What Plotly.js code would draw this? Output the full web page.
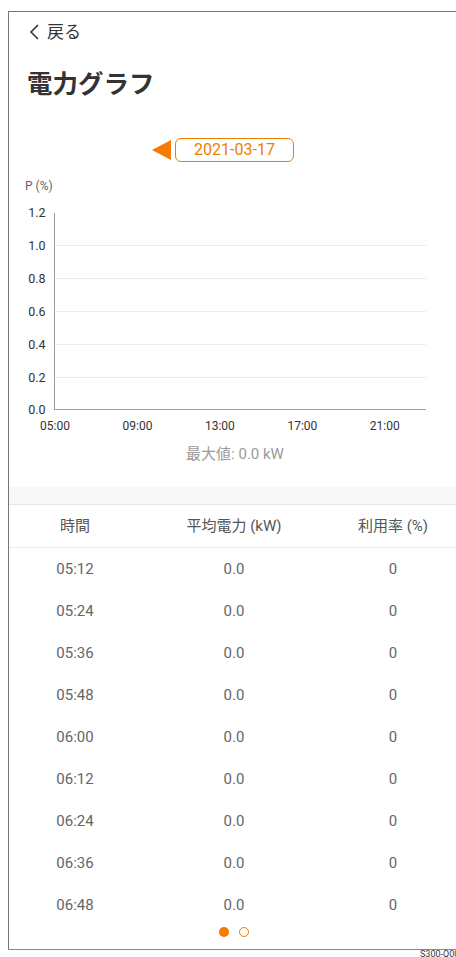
<!DOCTYPE html>
<html><head><meta charset="utf-8">
<script src="https://cdn.plot.ly/plotly-3.0.1.min.js"></script>
<style>
html,body{margin:0;padding:0;background:#fff;width:456px;height:957px;overflow:hidden;font-family:Roboto,"Noto Sans CJK JP",sans-serif;}
.abs{position:absolute;}
#frameTop{left:8px;top:11px;width:448px;height:1px;background:#777;}
#frameLeft{left:8px;top:11px;width:1px;height:939px;background:#777;}
#frameBottom{left:8px;top:949px;width:448px;height:1px;background:#888;}
#back{left:28px;top:21px;font-size:17px;color:#333;line-height:22px;}
#title{left:27px;top:65px;font-size:25.5px;font-weight:bold;color:#333;line-height:34px;font-family:"Noto Sans CJK JP",sans-serif;}
#tri{left:152px;top:140px;width:0;height:0;border-top:10px solid transparent;border-bottom:10px solid transparent;border-right:19px solid #f57c00;}
#datebox{left:175px;top:138px;width:117px;height:22px;border:1px solid #f07c00;border-radius:6px;color:#f07c00;font-size:16px;text-align:center;line-height:22px;}
#maxv{left:0;width:470px;top:442px;text-align:center;font-size:15px;color:#9a9a9a;}
#band{left:9px;top:487px;width:447px;height:17px;background:#f8f8f8;border-bottom:1px solid #e6e6e6;}
#hdrline{left:9px;top:547px;width:447px;height:1px;background:#ececec;}
.cell{position:absolute;width:160px;text-align:center;font-size:15px;color:#555;}
.dot{position:absolute;width:10px;height:10px;border-radius:50%;box-sizing:border-box;}
#code{left:420px;top:949px;font-size:9px;color:#333;white-space:nowrap;}
#plot{left:9px;top:165px;width:447px;height:280px;}
</style></head>
<body>
<div id="back" class="abs"><svg width="14" height="16" style="vertical-align:-2px;margin-right:5px"><polyline points="10,1 3,8 10,15" fill="none" stroke="#333" stroke-width="1.6"/></svg>戻る</div>
<div id="title" class="abs">電力グラフ</div>
<div id="tri" class="abs"></div>
<div id="datebox" class="abs"></div>
<div id="plot" class="abs"></div>
<div id="maxv" class="abs"></div>
<div id="band" class="abs"></div>
<div id="table"></div>
<div id="hdrline" class="abs"></div>
<div id="dots"></div>
<div id="frameTop" class="abs"></div>
<div id="frameLeft" class="abs"></div>
<div id="frameBottom" class="abs"></div>
<div id="code" class="abs">S300-Q00</div>
<script>
// ---- data ----
const dateLabel = "2021-03-17";
const yAxisLabel = "P (%)";
const maxLabel = "最大値: 0.0 kW";
const seriesHours = [5,6,7,8,9,10,11,12,13,14,15,16,17,18,19,20,21,22,23];
const seriesValues = [0,0,0,0,0,0,0,0,0,0,0,0,0,0,0,0,0,0,0];
const xTickVals = [5,9,13,17,21];
const xTickText = ["05:00","09:00","13:00","17:00","21:00"];
const tableHeaders = ["時間","平均電力 (kW)","利用率 (%)"];
const rowTimes = ["05:12","05:24","05:36","05:48","06:00","06:12","06:24","06:36","06:48"];
const rowPower = ["0.0","0.0","0.0","0.0","0.0","0.0","0.0","0.0","0.0"];
const rowUsage = ["0","0","0","0","0","0","0","0","0"];

document.getElementById('datebox').textContent = dateLabel;
document.getElementById('maxv').textContent = maxLabel;

// table
const colCenters = [75, 234, 393];
const tbl = document.getElementById('table');
function addCell(text, cx, y, size, color){
  const d = document.createElement('div');
  d.className = 'cell';
  d.style.left = (cx - 80) + 'px';
  d.style.top = (y - 10) + 'px';
  d.style.lineHeight = '20px';
  if (size) d.style.fontSize = size + 'px';
  if (color) d.style.color = color;
  d.textContent = text;
  tbl.appendChild(d);
}
tableHeaders.forEach((h,i)=>addCell(h, colCenters[i], 526, 15, '#555'));
rowTimes.forEach((t,r)=>{
  const y = 569 + r*42;
  addCell(t, colCenters[0], y, 15, '#666');
  addCell(rowPower[r], colCenters[1], y, 15, '#666');
  addCell(rowUsage[r], colCenters[2], y, 15, '#666');
});

// pager dots
const dots = document.getElementById('dots');
[[219,true],[239,false]].forEach(([x,f])=>{
  const d = document.createElement('div');
  d.className='dot';
  d.style.left = x+'px'; d.style.top='927px';
  if (f) d.style.background='#f57c00'; else d.style.border='1.5px solid #f57c00';
  dots.appendChild(d);
});

// chart
Plotly.newPlot('plot', [{
  x: seriesHours, y: seriesValues, type:'scatter', mode:'lines',
  line:{color:'#7aaec2', width:2}, hoverinfo:'skip'
}], {
  width:447, height:280,
  margin:{l:46, r:30, t:48, b:35},
  paper_bgcolor:'rgba(0,0,0,0)', plot_bgcolor:'#fff',
  showlegend:false,
  font:{family:'Roboto, sans-serif', size:12, color:'#333'},
  xaxis:{range:[5,23], tickvals:xTickVals, ticktext:xTickText, showgrid:false, zeroline:false,
         showline:false, ticks:'outside', ticklen:5, tickcolor:'rgba(0,0,0,0)', tickfont:{size:12,color:'#333'}, fixedrange:true},
  yaxis:{range:[0,1.2], dtick:0.2, tick0:0, tickformat:'.1f', showgrid:true, gridcolor:'#ececec', gridwidth:1,
         zeroline:false, showline:true, linecolor:'#9a9a9a', linewidth:1, ticks:'outside', ticklen:6,
         tickcolor:'rgba(0,0,0,0)', tickfont:{size:12.5,color:'#333'}, fixedrange:true},
  annotations:[{text:yAxisLabel, xref:'paper', yref:'paper', x:-0.085, y:1.137, xanchor:'left', yanchor:'middle',
    showarrow:false, font:{size:12, color:'#666'}}]
}, {staticPlot:true, displayModeBar:false});
</script>
</body></html>
